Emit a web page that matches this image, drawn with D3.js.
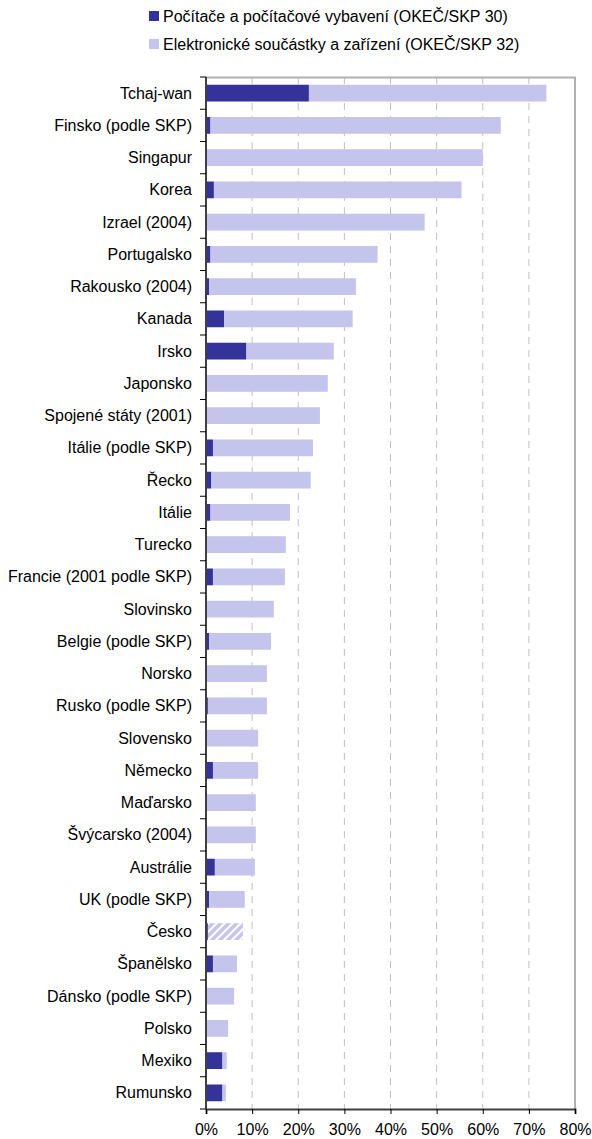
<!DOCTYPE html>
<html>
<head>
<meta charset="utf-8">
<script src="https://cdn.jsdelivr.net/npm/d3@7"></script>
<style>
  body { margin: 0; background: #fff; }
  svg text { font-family: "Liberation Sans", Arial, sans-serif; fill: #000; }
</style>
</head>
<body>
<div id="chart"></div>
<script>
const categories = ['Tchaj-wan', 'Finsko (podle SKP)', 'Singapur', 'Korea', 'Izrael (2004)', 'Portugalsko',
  'Rakousko (2004)', 'Kanada', 'Irsko', 'Japonsko', 'Spojené státy (2001)', 'Itálie (podle SKP)', 'Řecko',
  'Itálie', 'Turecko', 'Francie (2001 podle SKP)', 'Slovinsko', 'Belgie (podle SKP)', 'Norsko',
  'Rusko (podle SKP)', 'Slovensko', 'Německo', 'Maďarsko', 'Švýcarsko (2004)', 'Austrálie', 'UK (podle SKP)',
  'Česko', 'Španělsko', 'Dánsko (podle SKP)', 'Polsko', 'Mexiko', 'Rumunsko'];
// OKEČ/SKP 30 (%)
const computers = [22.3, 0.9, 0, 1.7, 0, 0.9, 0.65, 3.9, 8.7, 0, 0, 1.5, 1.1, 0.9, 0, 1.5, 0, 0.65, 0.2,
  0.4, 0, 1.5, 0.2, 0, 1.9, 0.65, 0.4, 1.5, 0, 0, 3.5, 3.5];
// OKEČ/SKP 32 (%)
const electronics = [51.5, 63.0, 60.0, 53.7, 47.4, 36.3, 31.85, 27.9, 19.0, 26.4, 24.7, 21.7, 21.6, 17.3, 17.3,
  15.6, 14.7, 13.45, 13.0, 12.8, 11.3, 9.8, 10.6, 10.8, 8.7, 7.75, 7.6, 5.2, 6.1, 4.8, 1.0, 0.8];
const seriesNames = ['Počítače a počítačové vybavení (OKEČ/SKP 30)', 'Elektronické součástky a zařízení (OKEČ/SKP 32)'];
const xTicks = [0, 10, 20, 30, 40, 50, 60, 70, 80];
const hatched = ['Česko'];

const W = 592, H = 1139;
const m = { top: 77, right: 17, bottom: 30, left: 206 };
const colors = ['#333399', '#c4c4ec'];
const fs = 16;

const svg = d3.select('#chart').append('svg').attr('width', W).attr('height', H);

const pat = svg.append('defs').append('pattern').attr('id', 'hatch')
  .attr('patternUnits', 'userSpaceOnUse').attr('width', 8).attr('height', 8);
pat.append('path').attr('d', 'M-2,10 L10,-2 M-2,2 L2,-2 M6,10 L10,6')
  .attr('stroke', colors[1]).attr('stroke-width', 3.5);

const x = d3.scaleLinear().domain([0, 80]).range([m.left, W - m.right]);
const y = d3.scaleBand().domain(categories).range([m.top, H - m.bottom]).paddingInner(0.48).paddingOuter(0.24);
const step = y.step();
const plotTop = m.top, plotBottom = H - m.bottom;

// grid
svg.append('g').selectAll('line').data(xTicks.slice(1, -1)).join('line')
  .attr('x1', d => x(d)).attr('x2', d => x(d)).attr('y1', plotTop).attr('y2', plotBottom)
  .attr('stroke', '#c0c0c0').attr('stroke-width', 1).attr('stroke-dasharray', '7,6');

// frame top/right
svg.append('path').attr('d', `M${x(0)},${plotTop + 0.5}H${x(80)}V${plotBottom}`)
  .attr('fill', 'none').attr('stroke', '#b0b0b0').attr('stroke-width', 2);

// bars
const rows = categories.map((c, i) => ({ c, a: computers[i], b: electronics[i] }));
const g = svg.append('g');
g.selectAll('.b').data(rows).join('rect')
  .attr('x', d => x(d.a)).attr('y', d => y(d.c))
  .attr('width', d => x(d.a + d.b) - x(d.a)).attr('height', y.bandwidth())
  .attr('fill', d => hatched.includes(d.c) ? 'url(#hatch)' : colors[1]);
g.selectAll('.a').data(rows.filter(d => d.a > 0)).join('rect')
  .attr('x', x(0)).attr('y', d => y(d.c))
  .attr('width', d => x(d.a) - x(0)).attr('height', y.bandwidth())
  .attr('fill', colors[0]);

// left axis
svg.append('line').attr('x1', x(0)).attr('x2', x(0)).attr('y1', plotTop).attr('y2', plotBottom + 1)
  .attr('stroke', '#404040').attr('stroke-width', 2);
svg.append('g').selectAll('line').data(d3.range(categories.length + 1)).join('line')
  .attr('x1', x(0) - 6).attr('x2', x(0)).attr('y1', i => plotTop + i * step).attr('y2', i => plotTop + i * step)
  .attr('stroke', '#000').attr('stroke-width', 1);
svg.append('g').selectAll('text').data(categories).join('text')
  .attr('x', 192).attr('y', d => y(d) + y.bandwidth() / 2).attr('dy', '0.35em')
  .attr('text-anchor', 'end').attr('font-size', fs).text(d => d);

// bottom axis
const xAxis = d3.axisBottom(x).tickValues(xTicks).tickSize(5).tickFormat(d => d + '%');
const ga = svg.append('g').attr('transform', `translate(0,${plotBottom})`).call(xAxis);
ga.select('.domain').attr('stroke', '#404040').attr('stroke-width', 2);
ga.selectAll('.tick line').attr('stroke', '#000');
ga.selectAll('.tick text').attr('font-size', fs).attr('y', 26).attr('dy', 0)
  .style('font-family', '"Liberation Sans", Arial, sans-serif').attr('fill', '#000');

// legend
const lg = svg.append('g').selectAll('g').data(seriesNames).join('g')
  .attr('transform', (d, i) => `translate(149,${11 + i * 28})`);
lg.append('rect').attr('width', 10).attr('height', 10).attr('fill', (d, i) => colors[i]);
lg.append('text').attr('x', 14).attr('y', 5).attr('dy', '0.36em').attr('font-size', fs).text(d => d);
</script>
</body>
</html>
